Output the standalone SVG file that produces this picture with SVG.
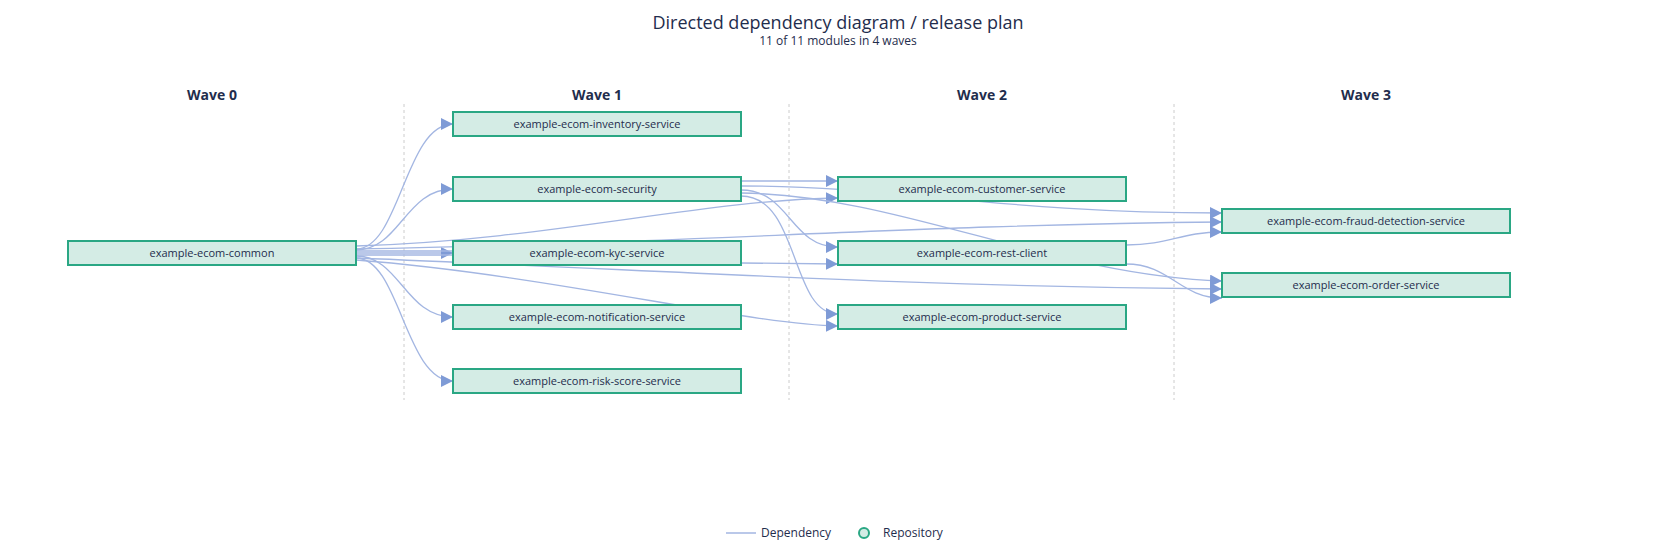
<svg xmlns="http://www.w3.org/2000/svg" width="1676" height="560" viewBox="0 0 1676 560">
<style>
text{font-family:"Open Sans","DejaVu Sans",sans-serif;fill:#1f2d4d}
.n rect{fill:#d4ece5;stroke:#2aa784;stroke-width:2}
.n text{font-size:11px;text-anchor:middle}
.h{font-size:14px;font-weight:bold;text-anchor:middle}
.e path{fill:none;stroke:#a3b6e2;stroke-width:1.3}
.a{marker-end:url(#ar)}
.d{stroke:#cccccc;stroke-dasharray:3,3;stroke-width:1}
</style>
<defs><marker id="ar" markerUnits="userSpaceOnUse" markerWidth="12" markerHeight="12" refX="10" refY="5" orient="auto" viewBox="0 0 10 10"><path d="M0,0 L10,5 L0,10 z" fill="#7f9bd6"/></marker></defs>
<rect width="1676" height="560" fill="#fff"/>
<text x="838" y="29" font-size="18" text-anchor="middle">Directed dependency diagram / release plan</text>
<text x="838" y="45" font-size="12" text-anchor="middle">11 of 11 modules in 4 waves</text>
<text class="h" x="212" y="100">Wave 0</text>
<text class="h" x="597" y="100">Wave 1</text>
<text class="h" x="982" y="100">Wave 2</text>
<text class="h" x="1366" y="100">Wave 3</text>
<line class="d" x1="404" y1="104" x2="404" y2="400"/>
<line class="d" x1="789" y1="104" x2="789" y2="400"/>
<line class="d" x1="1174" y1="104" x2="1174" y2="400"/>
<g class="e" id="edges">
<path class="a" d="M356,249 C400,249 405,124 453,124"/>
<path class="a" d="M356,250 C400,250 405,189 453,189"/>
<path class="a" d="M356,253 L453,253"/>
<path d="M356,251 L453,251"/>
<path d="M356,255 L453,255"/>
<path class="a" d="M356,256 C400,256 405,317 453,317"/>
<path class="a" d="M356,258 C400,258 405,381 453,381"/>
<path class="a" d="M356,246 C550,240 700,200 838,198"/>
<path class="a" d="M356,249 C700,243 900,225 1222,222"/>
<path class="a" d="M356,258 C700,272 900,286 1222,289"/>
<path class="a" d="M356,260 C550,275 750,325 838,326"/>
<path class="a" d="M741,181 L838,181"/>
<path class="a" d="M741,186 C900,186 1000,213 1222,213"/>
<path class="a" d="M741,193 C900,195 1050,275 1222,281"/>
<path class="a" d="M741,190 C790,190 790,247 838,247"/>
<path class="a" d="M741,196 C800,196 790,314 838,314"/>
<path class="a" d="M741,263 L838,264"/>
<path class="a" d="M1126,245 C1170,245 1180,232 1222,232"/>
<path class="a" d="M1126,264 C1170,264 1180,298 1222,298"/>
</g>
<g class="n" id="n-common"><rect x="68" y="241" width="288" height="24"/><text x="212" y="257">example-ecom-common</text></g>
<g class="n" id="n-inventory"><rect x="453" y="112" width="288" height="24"/><text x="597" y="128">example-ecom-inventory-service</text></g>
<g class="n" id="n-security"><rect x="453" y="177" width="288" height="24"/><text x="597" y="193">example-ecom-security</text></g>
<g class="n" id="n-kyc"><rect x="453" y="241" width="288" height="24"/><text x="597" y="257">example-ecom-kyc-service</text></g>
<g class="n" id="n-notification"><rect x="453" y="305" width="288" height="24"/><text x="597" y="321">example-ecom-notification-service</text></g>
<g class="n" id="n-risk"><rect x="453" y="369" width="288" height="24"/><text x="597" y="385">example-ecom-risk-score-service</text></g>
<g class="n" id="n-customer"><rect x="838" y="177" width="288" height="24"/><text x="982" y="193">example-ecom-customer-service</text></g>
<g class="n" id="n-rest"><rect x="838" y="241" width="288" height="24"/><text x="982" y="257">example-ecom-rest-client</text></g>
<g class="n" id="n-product"><rect x="838" y="305" width="288" height="24"/><text x="982" y="321">example-ecom-product-service</text></g>
<g class="n" id="n-fraud"><rect x="1222" y="209" width="288" height="24"/><text x="1366" y="225">example-ecom-fraud-detection-service</text></g>
<g class="n" id="n-order"><rect x="1222" y="273" width="288" height="24"/><text x="1366" y="289">example-ecom-order-service</text></g>
<g id="legend">
<line x1="726" y1="533" x2="756" y2="533" stroke="#a3b6e2" stroke-width="1.5"/>
<text x="761" y="537" font-size="12">Dependency</text>
<circle cx="864" cy="533" r="5" fill="#d4ece5" stroke="#2aa784" stroke-width="2"/>
<text x="883" y="537" font-size="12">Repository</text>
</g>
</svg>
